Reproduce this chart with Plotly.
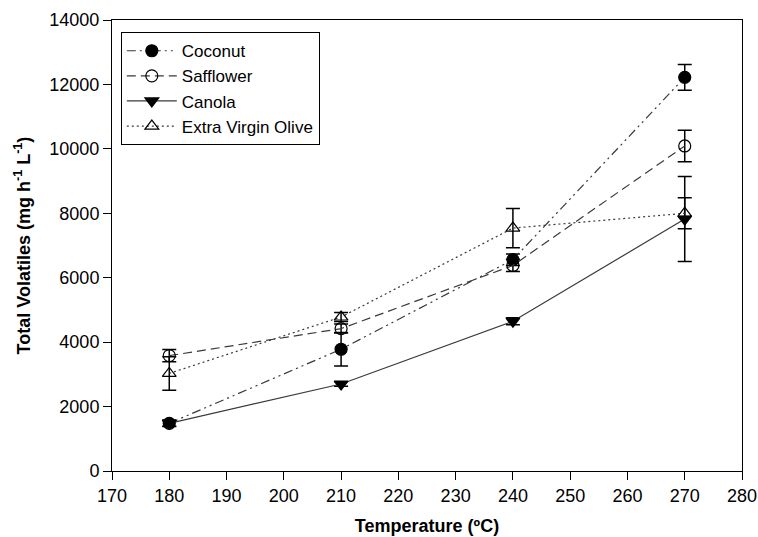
import plotly.graph_objects as go

temps = [180, 210, 240, 270]

coconut = [1480, 3780, 6560, 12220]
coconut_err = [100, 520, 180, 400]

safflower = [3580, 4420, 6380, 10090]
safflower_err = [190, 140, 190, 490]

canola = [1480, 2700, 4650, 7820]
canola_err = [90, 70, 110, 1320]

olive = [3030, 4780, 7540, 8000]
olive_err = [520, 140, 610, 480]

x_ticks = list(range(170, 281, 10))
y_ticks = list(range(0, 14001, 2000))

FONT = "Arial, Liberation Sans, sans-serif"
LINE = "#3a3a3a"

series = [
    ("Coconut", coconut, coconut_err, "circle", "black", "9px,4px,2px,4px,2px,4px"),
    ("Safflower", safflower, safflower_err, "circle-open", "black", "9px,5px"),
    ("Canola", canola, canola_err, "triangle-down", "black", "solid"),
    ("Extra Virgin Olive", olive, olive_err, "triangle-up-open", "black", "2px,3px"),
]

fig = go.Figure()
for name, vals, errs, sym, col, dash in series:
    fig.add_trace(go.Scatter(
        x=temps, y=vals, name=name, mode="lines+markers",
        line=dict(color=LINE, width=1.2, dash=dash),
        marker=dict(symbol=sym, size=12, color=col,
                    line=dict(color="black", width=1.2)),
        error_y=dict(type="data", array=errs, visible=True,
                     color="black", thickness=1.5, width=7),
    ))

fig.update_layout(
    width=758, height=537,
    margin=dict(l=112, r=16, t=20, b=66),
    paper_bgcolor="white", plot_bgcolor="white",
    font=dict(family=FONT, size=17, color="black"),
    showlegend=True,
    legend=dict(
        x=0.014, y=0.973, xanchor="left", yanchor="top",
        bordercolor="black", borderwidth=1, bgcolor="white",
        font=dict(family=FONT, size=17, color="black"),
        tracegroupgap=0, itemwidth=50,
    ),
)
fig.update_xaxes(
    range=[170, 280], tickmode="array", tickvals=x_ticks,
    ticks="outside", ticklen=8, tickwidth=1, tickcolor="black",
    showline=True, linecolor="black", linewidth=1, mirror=True,
    showgrid=False, zeroline=False, automargin=False,
    tickfont=dict(family=FONT, size=18, color="black"),
    title=dict(text="<b>Temperature (ºC)</b>",
               font=dict(family=FONT, size=18, color="black"), standoff=14),
)
fig.update_yaxes(
    range=[0, 14000], tickmode="array", tickvals=y_ticks, tickformat="d",
    ticks="outside", ticklen=8, tickwidth=1, tickcolor="black",
    showline=True, linecolor="black", linewidth=1, mirror=True,
    showgrid=False, zeroline=False, automargin=False,
    tickfont=dict(family=FONT, size=18, color="black"),
    title=dict(text="<b>Total Volatiles (mg h<sup>-1</sup> L<sup>-1</sup>)</b>",
               font=dict(family=FONT, size=18, color="black"), standoff=14),
)

fig.write_html("out.html", config={"displayModeBar": False},
               post_script="document.body.style.margin='0';document.body.style.padding='0';")
